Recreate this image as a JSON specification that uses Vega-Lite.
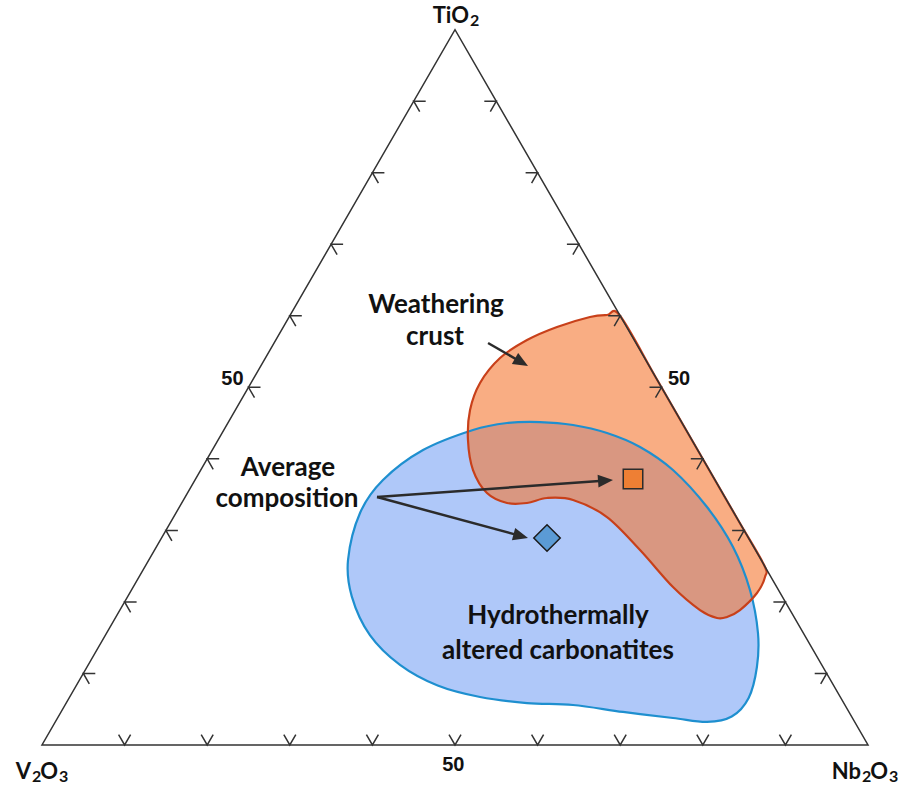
{
  "$schema": "https://vega.github.io/schema/vega-lite/v6.json",
  "width": 904,
  "height": 787,
  "autosize": {"type": "none"},
  "padding": 0,
  "background": "white",
  "config": {"view": {"stroke": null}},
  "datasets": {
    "triangle": [
      {"i": 0, "x": 0, "y": 0},
      {"i": 1, "x": 100, "y": 0},
      {"i": 2, "x": 50, "y": 86.6}
    ],
    "blue": [
      {"i": 0, "x": 60.29, "y": 39.10},
      {"i": 1, "x": 64.29, "y": 38.74},
      {"i": 2, "x": 68.40, "y": 37.77},
      {"i": 3, "x": 72.40, "y": 36.08},
      {"i": 4, "x": 76.39, "y": 33.29},
      {"i": 5, "x": 80.51, "y": 28.81},
      {"i": 6, "x": 83.66, "y": 23.97},
      {"i": 7, "x": 85.71, "y": 18.77},
      {"i": 8, "x": 86.68, "y": 13.56},
      {"i": 9, "x": 86.55, "y": 9.44},
      {"i": 10, "x": 85.55, "y": 5.70},
      {"i": 11, "x": 83.50, "y": 3.45},
      {"i": 12, "x": 80.51, "y": 2.80},
      {"i": 13, "x": 76.39, "y": 3.27},
      {"i": 14, "x": 70.34, "y": 4.00},
      {"i": 15, "x": 64.29, "y": 4.84},
      {"i": 16, "x": 58.72, "y": 5.08},
      {"i": 17, "x": 53.03, "y": 5.81},
      {"i": 18, "x": 47.90, "y": 7.20},
      {"i": 19, "x": 43.34, "y": 9.70},
      {"i": 20, "x": 39.70, "y": 13.30},
      {"i": 21, "x": 37.50, "y": 18.00},
      {"i": 22, "x": 37.05, "y": 22.40},
      {"i": 23, "x": 38.50, "y": 28.09},
      {"i": 24, "x": 41.28, "y": 32.08},
      {"i": 25, "x": 46.13, "y": 35.71},
      {"i": 26, "x": 52.18, "y": 38.14},
      {"i": 27, "x": 56.30, "y": 38.98}
    ],
    "orange": [
      {"i": 0, "x": 70.00, "y": 51.94},
      {"i": 1, "x": 74.49, "y": 44.19},
      {"i": 2, "x": 79.38, "y": 35.71},
      {"i": 3, "x": 84.27, "y": 27.24},
      {"i": 4, "x": 87.42, "y": 21.79},
      {"i": 5, "x": 87.53, "y": 20.34},
      {"i": 6, "x": 86.56, "y": 18.40},
      {"i": 7, "x": 84.50, "y": 16.34},
      {"i": 8, "x": 82.93, "y": 15.50},
      {"i": 9, "x": 81.72, "y": 15.38},
      {"i": 10, "x": 79.66, "y": 16.34},
      {"i": 11, "x": 76.39, "y": 19.13},
      {"i": 12, "x": 72.40, "y": 23.61},
      {"i": 13, "x": 68.40, "y": 27.60},
      {"i": 14, "x": 64.29, "y": 29.66},
      {"i": 15, "x": 61.14, "y": 29.90},
      {"i": 16, "x": 58.72, "y": 29.30},
      {"i": 17, "x": 56.30, "y": 29.30},
      {"i": 18, "x": 53.87, "y": 30.51},
      {"i": 19, "x": 52.18, "y": 33.29},
      {"i": 20, "x": 51.57, "y": 36.92},
      {"i": 21, "x": 51.82, "y": 40.56},
      {"i": 22, "x": 53.03, "y": 43.83},
      {"i": 23, "x": 55.45, "y": 46.85},
      {"i": 24, "x": 58.72, "y": 49.03},
      {"i": 25, "x": 62.35, "y": 50.61},
      {"i": 26, "x": 66.34, "y": 51.82},
      {"i": 27, "x": 68.40, "y": 52.06}
    ],
    "ticksBottom": [
      {"x": 10, "y": 0}, {"x": 20, "y": 0}, {"x": 30, "y": 0},
      {"x": 40, "y": 0}, {"x": 50, "y": 0}, {"x": 60, "y": 0},
      {"x": 70, "y": 0}, {"x": 80, "y": 0}, {"x": 90, "y": 0}
    ],
    "ticksLeft": [
      {"x": 5, "y": 8.66}, {"x": 10, "y": 17.32}, {"x": 15, "y": 25.98},
      {"x": 20, "y": 34.64}, {"x": 25, "y": 43.3}, {"x": 30, "y": 51.96},
      {"x": 35, "y": 60.62}, {"x": 40, "y": 69.28}, {"x": 45, "y": 77.94}
    ],
    "ticksRight": [
      {"x": 95, "y": 8.66}, {"x": 90, "y": 17.32}, {"x": 85, "y": 25.98},
      {"x": 80, "y": 34.64}, {"x": 75, "y": 43.3}, {"x": 70, "y": 51.96},
      {"x": 65, "y": 60.62}, {"x": 60, "y": 69.28}, {"x": 55, "y": 77.94}
    ],
    "arrows": [
      {"arrow": "crust", "x": 54.00, "y": 48.67, "x2": 57.78, "y2": 46.49},
      {"arrow": "square", "x": 40.56, "y": 30.02, "x2": 67.92, "y2": 32.00},
      {"arrow": "diamond", "x": 40.56, "y": 30.02, "x2": 57.68, "y2": 25.38}
    ],
    "tipCrust": [{"x": 58.84, "y": 45.88}],
    "tipSquare": [{"x": 69.13, "y": 32.08}],
    "tipDiamond": [{"x": 58.84, "y": 25.06}],
    "avgWeathering": [{"group": "Weathering crust", "x": 71.55, "y": 32.20}],
    "avgHydro": [{"group": "Hydrothermally altered carbonatites", "x": 61.14, "y": 25.06}],
    "annotations": [
      {"label": "Weathering", "x": 47.70, "y": 53.27},
      {"label": "crust", "x": 47.58, "y": 49.39},
      {"label": "Average", "x": 29.78, "y": 33.54},
      {"label": "composition", "x": 29.66, "y": 29.78},
      {"label": "Hydrothermally", "x": 62.47, "y": 15.62},
      {"label": "altered carbonatites", "x": 62.47, "y": 11.38}
    ],
    "vertexMain": [
      {"label": "TiO", "x": 51.69, "y": 88.29},
      {"label": "V", "x": -1.33, "y": -3.21},
      {"label": "O", "x": 1.94, "y": -3.21},
      {"label": "Nb", "x": 99.15, "y": -3.21},
      {"label": "O", "x": 102.42, "y": -3.21}
    ],
    "vertexSub": [
      {"label": "2", "x": 51.82, "y": 87.71},
      {"label": "2", "x": -1.21, "y": -3.93},
      {"label": "3", "x": 2.06, "y": -3.93},
      {"label": "2", "x": 99.27, "y": -3.93},
      {"label": "3", "x": 102.54, "y": -3.93}
    ],
    "fifty": [
      {"label": "50", "x": 49.8, "y": -2.42},
      {"label": "50", "x": 23.06, "y": 44.25},
      {"label": "50", "x": 77.12, "y": 44.25}
    ]
  },
  "encoding": {
    "x": {"field": "x", "type": "quantitative", "scale": {"domain": [-5.085, 104.358], "nice": false, "zero": false}, "axis": null},
    "y": {"field": "y", "type": "quantitative", "scale": {"domain": [-5.085, 90.194], "nice": false, "zero": false}, "axis": null}
  },
  "layer": [
    {
      "data": {"name": "blue"},
      "mark": {"type": "line", "interpolate": "cardinal-closed", "fill": "#AFC8F9", "strokeWidth": 0},
      "encoding": {"order": {"field": "i", "type": "quantitative"}}
    },
    {
      "data": {"name": "orange"},
      "mark": {"type": "line", "interpolate": "cardinal-closed", "fill": "#F57630", "fillOpacity": 0.6, "strokeWidth": 0},
      "encoding": {"order": {"field": "i", "type": "quantitative"}}
    },
    {
      "data": {"name": "blue"},
      "mark": {"type": "line", "interpolate": "cardinal-closed", "stroke": "#1E8FCF", "strokeWidth": 2.2},
      "encoding": {"order": {"field": "i", "type": "quantitative"}}
    },
    {
      "data": {"name": "orange"},
      "mark": {"type": "line", "interpolate": "cardinal-closed", "stroke": "#C8401A", "strokeWidth": 2.2},
      "encoding": {"order": {"field": "i", "type": "quantitative"}}
    },
    {
      "data": {"name": "triangle"},
      "mark": {"type": "line", "interpolate": "linear-closed", "stroke": "#333333", "strokeWidth": 1.5},
      "encoding": {"order": {"field": "i", "type": "quantitative"}}
    },
    {
      "data": {"name": "ticksBottom"},
      "mark": {"type": "point", "shape": "M-0.5,-0.866L0,0L0.5,-0.866", "filled": false, "stroke": "#333333", "strokeWidth": 1.5, "size": 576, "opacity": 1}
    },
    {
      "data": {"name": "ticksLeft"},
      "mark": {"type": "point", "shape": "M1,0L0,0L0.5,0.866", "filled": false, "stroke": "#333333", "strokeWidth": 1.5, "size": 576, "opacity": 1}
    },
    {
      "data": {"name": "ticksRight"},
      "mark": {"type": "point", "shape": "M-1,0L0,0L-0.5,0.866", "filled": false, "stroke": "#333333", "strokeWidth": 1.5, "size": 576, "opacity": 1}
    },
    {
      "data": {"name": "arrows"},
      "mark": {"type": "rule", "stroke": "#2b2b2b", "strokeWidth": 2.5},
      "encoding": {"x2": {"field": "x2"}, "y2": {"field": "y2"}}
    },
    {
      "data": {"name": "tipCrust"},
      "mark": {"type": "point", "shape": "M0,0L-1,-0.42L-1,0.42Z", "filled": true, "fill": "#2b2b2b", "strokeWidth": 0, "size": 900, "opacity": 1, "angle": 29.9}
    },
    {
      "data": {"name": "tipSquare"},
      "mark": {"type": "point", "shape": "M0,0L-1,-0.42L-1,0.42Z", "filled": true, "fill": "#2b2b2b", "strokeWidth": 0, "size": 900, "opacity": 1, "angle": 355.9}
    },
    {
      "data": {"name": "tipDiamond"},
      "mark": {"type": "point", "shape": "M0,0L-1,-0.42L-1,0.42Z", "filled": true, "fill": "#2b2b2b", "strokeWidth": 0, "size": 900, "opacity": 1, "angle": 15.2}
    },
    {
      "data": {"name": "avgWeathering"},
      "mark": {"type": "point", "shape": "square", "filled": true, "fill": "#EE7F34", "stroke": "#2b2b2b", "strokeWidth": 1.5, "size": 380, "opacity": 1}
    },
    {
      "data": {"name": "avgHydro"},
      "mark": {"type": "point", "shape": "diamond", "filled": true, "fill": "#5B9BD5", "stroke": "#1a1a1a", "strokeWidth": 1.5, "size": 700, "opacity": 1}
    },
    {
      "data": {"name": "annotations"},
      "mark": {"type": "text", "font": "Lato", "fontWeight": "bold", "fontSize": 26, "color": "#111111", "align": "center", "baseline": "middle"},
      "encoding": {"text": {"field": "label"}}
    },
    {
      "data": {"name": "vertexMain"},
      "mark": {"type": "text", "font": "Lato", "fontWeight": "bold", "fontSize": 22, "color": "#111111", "align": "right", "baseline": "middle"},
      "encoding": {"text": {"field": "label"}}
    },
    {
      "data": {"name": "vertexSub"},
      "mark": {"type": "text", "font": "Lato", "fontWeight": "bold", "fontSize": 16, "color": "#111111", "align": "left", "baseline": "middle"},
      "encoding": {"text": {"field": "label"}}
    },
    {
      "data": {"name": "fifty"},
      "mark": {"type": "text", "font": "Liberation Sans", "fontWeight": "bold", "fontSize": 20, "color": "#111111", "align": "center", "baseline": "middle"},
      "encoding": {"text": {"field": "label"}}
    }
  ]
}
